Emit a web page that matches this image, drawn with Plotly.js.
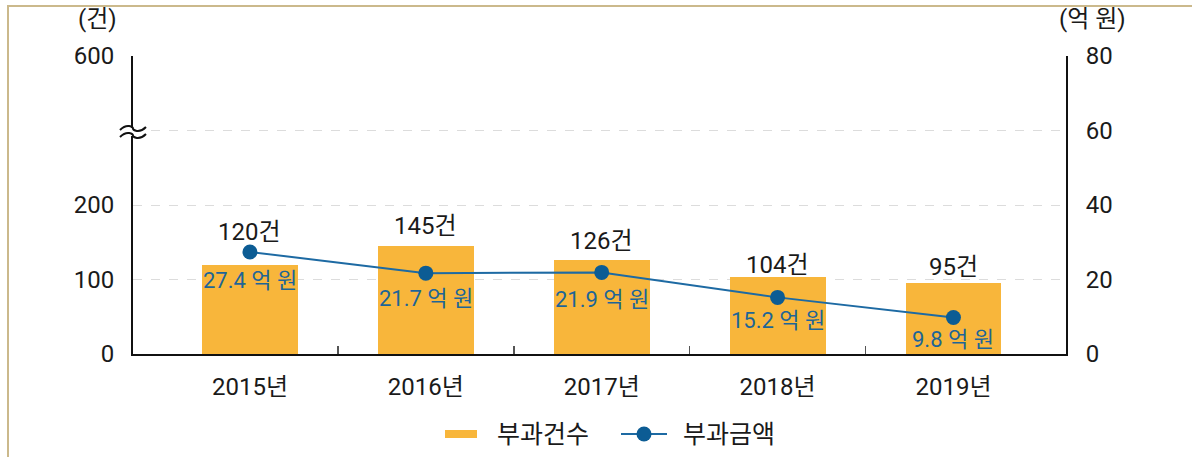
<!DOCTYPE html>
<html>
<head>
<meta charset="utf-8">
<script src="https://cdn.plot.ly/plotly-3.0.1.min.js"></script>
<style>
  html, body { margin: 0; padding: 0; background: #fff; }
  #wrap { position: relative; width: 1192px; height: 457px; }
  #chart { width: 1192px; height: 457px; }
  #frame { position: absolute; left: 7px; top: 5px; right: 0; bottom: 0;
           border-left: 2px solid #cbb98c; border-top: 2px solid #cbb98c; pointer-events: none; }
</style>
</head>
<body>
<div id="wrap"><div id="chart"></div><div id="frame"></div></div>
<script>
// ---- data ----
const years = ['2015년', '2016년', '2017년', '2018년', '2019년'];
const counts = [120, 145, 126, 104, 95];          // 부과건수 (건)
const amounts = [27.4, 21.7, 21.9, 15.2, 9.8];    // 부과금액 (억 원)
const leftTickVals = [0, 100, 200, 400];          // broken axis: top tick shows 600
const leftTickText = ['0', '100', '200', '600'];
const rightTickVals = [0, 20, 40, 60, 80];
const countName = '부과건수';
const amountName = '부과금액';

// ---- style ----
const FONT = 'Roboto, "Noto Sans CJK KR", "Noto Sans", sans-serif';
const BAR = '#f8b63b';
const LINE = '#1d6aa3';
const MARK = '#0c5c94';
const BLUE_TXT = '#1d6597';
const TXT = '#1a1a1a';

const W = 1192, H = 457;
const M = { l: 133, r: 126, t: 56, b: 103 };
const PW = W - M.l - M.r, PH = H - M.t - M.b;
const px = x => (x - M.l) / PW;
const py = y => (H - M.b - y) / PH;

const traces = [
  { type: 'bar', x: years, y: counts, name: countName, yaxis: 'y', xaxis: 'x',
    marker: { color: BAR }, width: 0.545, hoverinfo: 'skip', showlegend: false },
  { type: 'scatter', mode: 'lines+markers', x: years, y: amounts, name: amountName,
    yaxis: 'y2', xaxis: 'x', line: { color: LINE, width: 2 },
    marker: { color: MARK, size: 15 }, hoverinfo: 'skip', showlegend: false },
  { type: 'scatter', x: [], y: [], xaxis: 'x2', yaxis: 'y', showlegend: false, hoverinfo: 'skip' }
];

const countShift = [33, 20, 19, 12, 16];
const amountShift = [-29, -25, -27, -23, -22];
const annotations = [];
years.forEach((yr, i) => {
  annotations.push({ x: yr, y: counts[i], xref: 'x', yref: 'y', text: counts[i] + '건',
    showarrow: false, yshift: countShift[i], yanchor: 'middle', xanchor: 'center',
    font: { family: FONT, size: 24, color: TXT } });
  annotations.push({ x: yr, y: amounts[i], xref: 'x', yref: 'y2', text: amounts[i].toFixed(1) + ' 억 원',
    showarrow: false, yshift: amountShift[i], yanchor: 'middle', xanchor: 'center',
    font: { family: FONT, size: 22, color: BLUE_TXT } });
});
annotations.push({ xref: 'paper', yref: 'paper', x: px(97), y: py(19), xanchor: 'center', yanchor: 'middle',
  text: '(건)', showarrow: false, font: { family: FONT, size: 24, color: TXT } });
annotations.push({ xref: 'paper', yref: 'paper', x: px(1092), y: py(19), xanchor: 'center', yanchor: 'middle',
  text: '(억 원)', showarrow: false, font: { family: FONT, size: 24, color: TXT } });
// custom legend text
annotations.push({ xref: 'paper', yref: 'paper', x: px(495), y: py(434), xanchor: 'left', yanchor: 'middle',
  text: countName, showarrow: false, font: { family: FONT, size: 25, color: TXT } });
annotations.push({ xref: 'paper', yref: 'paper', x: px(681), y: py(434), xanchor: 'left', yanchor: 'middle',
  text: amountName, showarrow: false, font: { family: FONT, size: 25, color: TXT } });

function wave(x0, y0, x1, y1) {
  const mx = (x0 + x1) / 2;
  return `M ${px(x0)},${py(y0)} C ${px(x0 + 7)},${py(y0 - 7)} ${px(mx)},${py(y0 - 3)} ${px(mx)},${py((y0 + y1) / 2)} ` +
         `S ${px(x1 - 7)},${py(y1 + 7)} ${px(x1)},${py(y1)}`;
}

const shapes = [
  // axis break
  { type: 'rect', xref: 'paper', yref: 'paper', x0: px(128), x1: px(138), y0: py(136), y1: py(128),
    fillcolor: '#fff', line: { width: 0 }, layer: 'above' },
  { type: 'path', xref: 'paper', yref: 'paper', path: wave(120, 130, 146, 127), line: { color: '#111', width: 2 }, layer: 'above' },
  { type: 'path', xref: 'paper', yref: 'paper', path: wave(120, 137, 146, 134), line: { color: '#111', width: 2 }, layer: 'above' },
  // custom legend swatches
  { type: 'rect', xref: 'paper', yref: 'paper', x0: px(445), x1: px(477), y0: py(438), y1: py(430),
    fillcolor: BAR, line: { width: 0 } },
  { type: 'line', xref: 'paper', yref: 'paper', x0: px(621), x1: px(667), y0: py(434), y1: py(434),
    line: { color: LINE, width: 2 } },
  { type: 'circle', xref: 'paper', yref: 'paper', x0: px(636.5), x1: px(651.5), y0: py(441.5), y1: py(426.5),
    fillcolor: MARK, line: { width: 0 } }
];

const layout = {
  width: W, height: H,
  margin: M,
  paper_bgcolor: '#fff', plot_bgcolor: '#fff',
  font: { family: FONT, size: 24, color: TXT },
  showlegend: false,
  bargap: 0,
  xaxis: { type: 'category', range: [-0.665, 4.64], showline: true, linecolor: '#111', linewidth: 2,
    ticks: '', showgrid: false, zeroline: false, ticklabelstandoff: 10,
    tickfont: { family: FONT, size: 24, color: TXT }, fixedrange: true },
  xaxis2: { type: 'linear', overlaying: 'x', anchor: 'y', range: [-0.665, 4.64],
    tickvals: [0.5, 1.5, 2.5, 3.5], ticks: 'inside', ticklen: 8, tickwidth: 1.5, tickcolor: '#555',
    showticklabels: false, showgrid: false, zeroline: false, showline: false, side: 'bottom' },
  yaxis: { range: [0, 400], tickvals: leftTickVals, ticktext: leftTickText, showline: true,
    linecolor: '#111', linewidth: 2, ticks: '', showgrid: false, zeroline: false,
    ticklabelstandoff: 12, tickfont: { family: FONT, size: 24, color: TXT } },
  yaxis2: { range: [0, 80], tickvals: rightTickVals, overlaying: 'y', side: 'right', showline: true,
    linecolor: '#111', linewidth: 2, ticks: '', showgrid: true, gridcolor: '#dcdcdc', griddash: 'dash',
    gridwidth: 1, zeroline: false, ticklabelstandoff: 13, tickfont: { family: FONT, size: 24, color: TXT } },
  annotations, shapes
};

Plotly.newPlot('chart', traces, layout, { staticPlot: true, displayModeBar: false });
</script>
</body>
</html>
